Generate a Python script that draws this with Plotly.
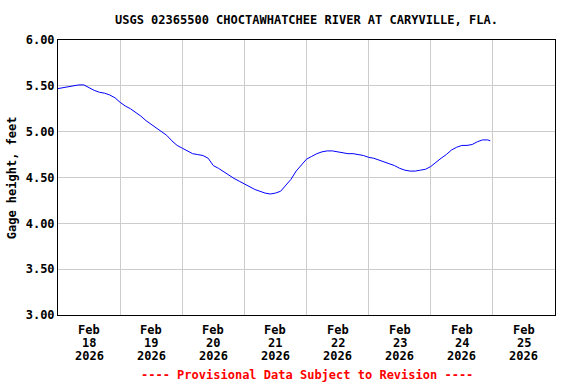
import plotly.graph_objects as go
import pandas as pd

# Hours since 2026-02-18 00:00 and gage height (feet)
hours = [0, 2, 4, 6, 8, 10, 12, 14, 16, 18, 20, 22, 24, 26, 28, 30, 32, 34, 36, 38,
         40, 42, 44, 46, 48, 50, 52, 54, 56, 58, 60, 62, 64, 66, 68, 70, 72, 74, 76, 78,
         80, 82, 84, 86, 88, 90, 92, 94, 96, 98, 100, 102, 104, 106, 108, 110, 112, 114,
         116, 118, 120, 122, 124, 126, 128, 130, 132, 134, 136, 138, 140, 142, 144, 146,
         148, 150, 152, 154, 156, 158, 160, 162, 164, 166, 167]
gage_ft = [5.47, 5.48, 5.49, 5.50, 5.51, 5.51, 5.48, 5.45, 5.43, 5.42, 5.40, 5.37, 5.32,
           5.28, 5.25, 5.21, 5.17, 5.12, 5.08, 5.04, 5.00, 4.96, 4.90, 4.85, 4.82, 4.79,
           4.76, 4.75, 4.74, 4.71, 4.63, 4.60, 4.56, 4.53, 4.49, 4.46, 4.43, 4.40, 4.37,
           4.35, 4.33, 4.32, 4.33, 4.35, 4.41, 4.48, 4.57, 4.64, 4.70, 4.73, 4.76, 4.78,
           4.79, 4.79, 4.78, 4.77, 4.76, 4.76, 4.75, 4.74, 4.72, 4.71, 4.69, 4.67, 4.65,
           4.63, 4.60, 4.58, 4.57, 4.57, 4.58, 4.59, 4.62, 4.67, 4.71, 4.75, 4.80, 4.83,
           4.85, 4.85, 4.86, 4.89, 4.91, 4.91, 4.90]

# x tick labels (one per day, centred at noon)
tick_days = ["2026-02-18", "2026-02-19", "2026-02-20", "2026-02-21",
             "2026-02-22", "2026-02-23", "2026-02-24", "2026-02-25"]
tick_month = ["Feb"] * 8
tick_daynum = ["18", "19", "20", "21", "22", "23", "24", "25"]
tick_year = ["2026"] * 8

start = pd.Timestamp("2026-02-18 00:00")
times = [start + pd.Timedelta(hours=h) for h in hours]

title_text = "USGS 02365500 CHOCTAWHATCHEE RIVER AT CARYVILLE, FLA."
y_title = "Gage height, feet"
footer = "---- Provisional Data Subject to Revision ----"
y_ticks = [3.0, 3.5, 4.0, 4.5, 5.0, 5.5, 6.0]

FONT = "DejaVu Sans Mono"
BOLD = dict(family=FONT, size=12, color="black", weight="bold")

fig = go.Figure()
fig.add_trace(go.Scatter(x=times, y=gage_ft, mode="lines",
                         line=dict(color="#0000ff", width=1), showlegend=False,
                         hoverinfo="skip"))

fig.update_layout(
    width=576, height=384,
    margin=dict(l=58, r=21, t=40, b=69),
    paper_bgcolor="white", plot_bgcolor="white",
    font=BOLD,
    title=dict(text=title_text, x=0.532, xanchor="center", y=0.948, yanchor="middle",
               font=BOLD),
)

fig.update_xaxes(
    range=["2026-02-18 00:00", "2026-02-26 00:00"],
    tick0="2026-02-18", dtick=86400000, showticklabels=False,
    showgrid=True, gridcolor="#cccccc", gridwidth=1,
    showline=True, linecolor="black", linewidth=1, mirror=True,
    ticks="", zeroline=False,
)
fig.update_yaxes(
    range=[3.0, 6.0], tickvals=y_ticks, tickformat=".2f",
    showgrid=True, gridcolor="#cccccc", gridwidth=1,
    showline=True, linecolor="black", linewidth=1, mirror=True,
    ticks="", zeroline=False, automargin=False,
    tickfont=BOLD,
)

fig.add_annotation(text=y_title, xref="paper", yref="paper", x=-0.093, y=0.5,
                   textangle=-90, xanchor="center", yanchor="middle",
                   showarrow=False, font=BOLD)

for d, m, n, yr in zip(tick_days, tick_month, tick_daynum, tick_year):
    xpos = pd.Timestamp(d) + pd.Timedelta(hours=12)
    for txt, shift in ((m, -15), (n, -28), (yr, -41)):
        fig.add_annotation(text=txt, x=xpos, xref="x", y=0, yref="paper",
                           yshift=shift, xanchor="center", yanchor="middle",
                           showarrow=False, font=BOLD)

fig.add_annotation(text=footer, xref="paper", yref="paper", x=0.5, y=-0.218,
                   xanchor="center", yanchor="middle", showarrow=False,
                   font=dict(family=FONT, size=12, color="red", weight="bold"))

fig.write_html("out.html", config={"displayModeBar": False},
               post_script="document.body.style.margin='0';")
